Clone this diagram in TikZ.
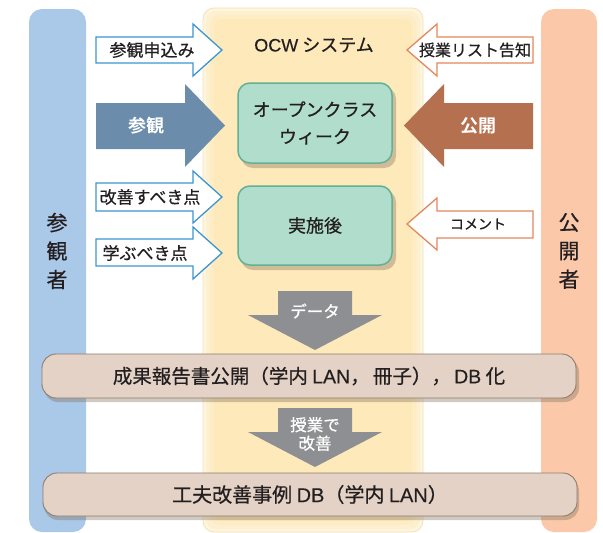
\documentclass[tikz,border=0pt]{standalone}
\usepackage{fontspec}
\setmainfont[FakeBold=0.6]{Noto Sans CJK JP}
\newfontfamily\jpbold{Noto Sans CJK JP Bold}
\newfontfamily\lat[FakeBold=0.3]{Liberation Sans}
\definecolor{txt}{HTML}{231F20}
\definecolor{bluebar}{HTML}{AAC8E8}
\definecolor{salmonbar}{HTML}{FBC9AA}
\definecolor{panelA}{HTML}{FEF5DE}
\definecolor{panelB}{HTML}{FDF0D0}
\definecolor{panelC}{HTML}{FDECC4}
\definecolor{panelD}{HTML}{FDE9BA}
\definecolor{panelline}{HTML}{F4E2B6}
\definecolor{greenfill}{HTML}{B1DDCD}
\definecolor{greenline}{HTML}{62B095}
\definecolor{beigefill}{HTML}{E3D2C5}
\definecolor{beigeline}{HTML}{8E7B6B}
\definecolor{blueline}{HTML}{3B96D2}
\definecolor{orangeline}{HTML}{E4875A}
\definecolor{bigblue}{HTML}{6B8CAB}
\definecolor{bigbrown}{HTML}{B5704F}
\definecolor{grayarrow}{HTML}{8D8F93}
\definecolor{shadowc}{HTML}{7A6A55}
\tikzset{
  lbl/.style={text=txt,font=\fontsize{17}{20}\selectfont,inner sep=0pt},
  whitelbl/.style={text=white,font=\jpbold\fontsize{18}{20}\selectfont,inner sep=0pt},
  graylbl/.style={text=white,font=\fontsize{16.5}{18.5}\selectfont,inner sep=0pt,align=center},
  outblue/.style={fill=white,draw=blueline,line width=1.3pt,line join=miter},
  outorange/.style={fill=white,draw=orangeline,line width=1.3pt,line join=miter},
  greenbox/.style={fill=greenfill,draw=greenline,line width=1.5pt,rounded corners=12pt},
  beigebar/.style={fill=beigefill,draw=beigeline,line width=0.9pt,rounded corners=14pt},
  shadowbox/.style={fill=shadowc,opacity=0.35,rounded corners=12pt},
}
\begin{document}
\begin{tikzpicture}[x=1pt,y=-1pt]
\useasboundingbox (0,0) rectangle (603,533);
\fill[white] (0,0) rectangle (603,533);
% side bars
\fill[bluebar,rounded corners=13pt] (29,9) rectangle (86,532);
\fill[salmonbar,rounded corners=13pt] (541,9) rectangle (597,532);
\node[text=txt,font=\fontsize{21}{28.5}\selectfont,align=center,inner sep=0pt] (visitor) at (57,251) {参\\観\\者};
\node[text=txt,font=\fontsize{21}{28.5}\selectfont,align=center,inner sep=0pt] (publisher) at (569,251) {公\\開\\者};
% central panel
\fill[panelA,draw=panelline,line width=0.8pt,rounded corners=11pt] (203,8) rectangle (423,532);
\fill[panelB,rounded corners=10pt] (206,11) rectangle (420,529);
\fill[panelC,rounded corners=9pt] (210,15) rectangle (416,525);
\fill[panelD,rounded corners=8pt] (214,19) rectangle (412,521);
\node[lbl,font=\fontsize{18}{20}\selectfont] (ocw) at (314,45) {{\lat OCW} システム};
% green boxes
\fill[shadowbox] (241,87) rectangle (396,168);
\node[greenbox,minimum width=154pt,minimum height=80pt,inner sep=0pt,align=center,
      font=\fontsize{18}{27}\selectfont,text=txt] (ocweek) at (315,123) {オープンクラス\\ウィーク};
\fill[shadowbox] (241,190) rectangle (396,270);
\node[greenbox,minimum width=154pt,minimum height=79pt,inner sep=0pt,
      font=\fontsize{18}{20}\selectfont,text=txt] (after) at (315,225.5) {実施後};
% left arrows
\draw[outblue] (96,37) -- (193,37) -- (193,24) -- (222,50) -- (193,76) -- (193,63) -- (96,63) -- cycle;
\node[lbl] (apply) at (152,50) {参観申込み};
\fill[bigblue] (96,103) -- (185,103) -- (185,84) -- (225,125.5) -- (185,167) -- (185,149) -- (96,149) -- cycle;
\node[whitelbl] (visit) at (146,126) {参観};
\draw[outblue] (96,183) -- (193,183) -- (193,171) -- (222,197) -- (193,223) -- (193,211) -- (96,211) -- cycle;
\node[lbl] (improve) at (150,197) {改善すべき点};
\draw[outblue] (96,239) -- (193,239) -- (193,227) -- (222,253) -- (193,279) -- (193,266) -- (96,266) -- cycle;
\node[lbl] (learn) at (145,253) {学ぶべき点};
% right arrows
\draw[outorange] (533,37) -- (437,37) -- (437,24) -- (407,50) -- (437,76) -- (437,63) -- (533,63) -- cycle;
\node[text=txt,font=\fontsize{16}{20}\selectfont,inner sep=0pt] (notice) at (475,50) {授業リスト告知};
\fill[bigbrown] (533,103) -- (444,103) -- (444,84) -- (404,125.5) -- (444,167) -- (444,149) -- (533,149) -- cycle;
\node[whitelbl] (publish) at (478,126) {公開};
\draw[outorange] (533,211) -- (437,211) -- (437,198) -- (407,224) -- (437,250) -- (437,238) -- (533,238) -- cycle;
\node[text=txt,font=\fontsize{14}{16}\selectfont,inner sep=0pt] (comment) at (478,224) {コメント};
% gray down arrows
\fill[grayarrow] (278,291) -- (352,291) -- (352,315) -- (382,315) -- (315,350) -- (248,315) -- (278,315) -- cycle;
\node[graylbl] (data) at (315,311) {データ};
\fill[grayarrow] (278,408) -- (352,408) -- (352,432) -- (382,432) -- (315,467) -- (248,432) -- (278,432) -- cycle;
\node[graylbl] (kaizen) at (315,434) {授業で\\改善};
% beige bars
\fill[shadowbox,rounded corners=14pt] (44,358) rectangle (579,402);
\node[beigebar,minimum width=534pt,minimum height=44pt,inner sep=0pt,
      font=\fontsize{19.5}{20}\selectfont,text=txt] (report) at (309,376) {成果報告書公開（学内 {\lat LAN}，\,冊子），\,{\lat DB} 化};
\fill[shadowbox,rounded corners=14pt] (44,477) rectangle (579,520);
\node[beigebar,minimum width=534pt,minimum height=43pt,inner sep=0pt,
      font=\fontsize{20}{20}\selectfont,text=txt] (casedb) at (310,494.5) {工夫改善事例 {\lat DB}（学内 {\lat LAN}）};
\end{tikzpicture}
\end{document}
